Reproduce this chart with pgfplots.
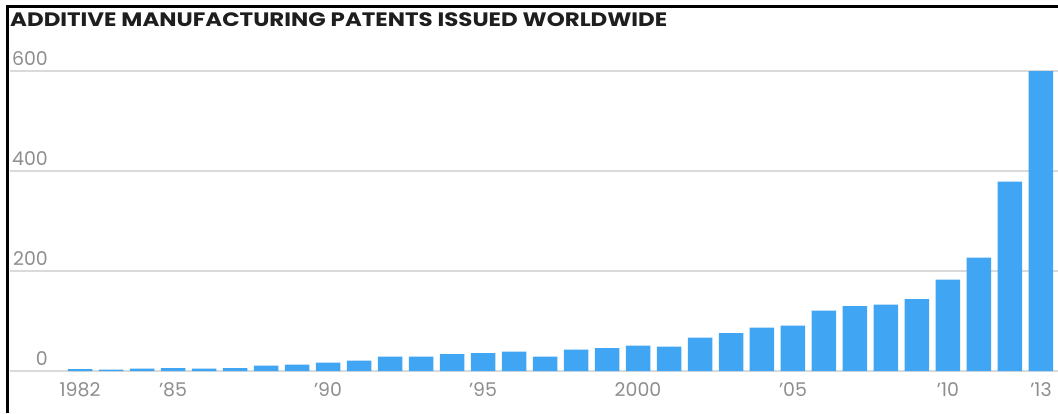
\documentclass[border=0pt]{standalone}
\usepackage{fontspec}
\setmainfont{Poppins}
\usepackage{pgfplots}
\pgfplotsset{compat=1.18}
\definecolor{barblue}{HTML}{40A6F3}
\definecolor{tickgray}{HTML}{8E8E8E}
\definecolor{gridgray}{HTML}{DADADA}
\definecolor{titleblack}{HTML}{1E1E1E}

\pgfplotstableread{
year patents
1982 4
1983 3
1984 5
1985 6
1986 5
1987 6
1988 11
1989 13
1990 17
1991 21
1992 29
1993 29
1994 34
1995 36
1996 39
1997 29
1998 43
1999 46
2000 51
2001 49
2002 67
2003 76
2004 87
2005 91
2006 121
2007 130
2008 133
2009 144
2010 183
2011 227
2012 379
2013 600
}\patents

\begin{document}
\begin{tikzpicture}[x=1bp,y=1bp]
\path[use as bounding box] (0,0) rectangle (1058,413);
\fill[white] (0,0) rectangle (1058,413);
\begin{axis}[
  at={(10bp,42bp)}, anchor=south west,
  scale only axis, width=1048bp, height=300bp,
  xmin=1979.74, xmax=2013.55, ymin=0, ymax=600,
  axis line style={draw=none},
  major tick length=0pt,
  ytick={0,200,400,600},
  yticklabels={0,200,400,600},
  ymajorgrids,
  grid style={gridgray, line width=1.4bp},
  xtick={1982,1985,1990,1995,2000,2005,2010,2013},
  xticklabels={1982,’85,’90,’95,2000,’05,’10,’13},
  yticklabel style={anchor=south east, inner sep=0pt, xshift=38bp, yshift=5bp,
    font=\fontsize{19}{19}\selectfont, text=tickgray},
  xticklabel style={anchor=north, inner sep=0pt, yshift=-11bp,
    font=\fontsize{19}{19}\selectfont, text=tickgray},
  ybar, bar width=24.5bp,
  clip=false,
]
\addplot[fill=barblue, draw=none] table[x=year, y=patents] {\patents};
\end{axis}
\node[anchor=base west, inner sep=0pt, text=titleblack,
  font=\bfseries\fontsize{19.5}{19.5}\selectfont] at (10,386.5)
  {\scalebox{1.18}[1]{ADDITIVE MANUFACTURING PATENTS ISSUED WORLDWIDE}};
\draw[black, line width=2.6bp] (7.5,0) -- (7.5,406.5) -- (1058,406.5);
\end{tikzpicture}
\end{document}
